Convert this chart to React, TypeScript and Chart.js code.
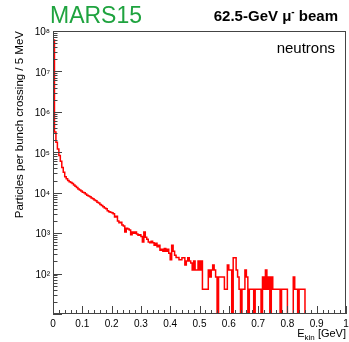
import React, { useEffect, useRef } from 'react';
import { Chart, registerables } from 'chart.js';

Chart.register(...registerables);

// ---- data ----
const BIN_WIDTH_GEV = 0.005;
const X_MIN = 0;
const X_MAX = 1;
const Y_MIN = 10;
const Y_MAX = 1e8;

// neutrons per bunch crossing, 5 MeV bins from 0 to 1 GeV
const neutronCounts: number[] = [
  60000000, 316000, 178000, 120000, 83000, 60000, 42000, 32000, 25000, 22000,
  20000, 18600, 17800, 17000, 15500, 14500, 13500, 12300, 11700, 11000,
  10200, 10000, 9300, 8700, 8300, 7900, 7400, 7100, 6600, 6300,
  5800, 5600, 5100, 4800, 4500, 4200, 4000, 3600, 3400, 3300,
  3200, 3000, 2500, 2600, 2000, 1800, 1860, 1580, 1510, 1070,
  1320, 1260, 1200, 910, 1070, 1000, 1070, 950, 890, 910,
  830, 600, 1070, 790, 710, 600, 575, 630, 575, 500,
  560, 460, 500, 380, 400, 355, 415, 355, 400, 316,
  219, 500, 355, 282, 251, 251, 219, 219, 246, 246,
  164, 205, 246, 205, 182, 123, 205, 123, 123, 205,
  123, 205, 41, 41, 41, 41, 123, 82, 123, 164,
  123, 82, 0, 82, 82, 82, 82, 41, 41, 164,
  123, 123, 0, 246, 246, 123, 82, 41, 0, 41,
  41, 123, 82, 0, 41, 41, 41, 0, 41, 41,
  41, 41, 0, 82, 41, 123, 41, 82, 0, 82,
  41, 41, 41, 41, 41, 0, 41, 41, 41, 41,
  0, 0, 0, 0, 82, 41, 41, 0, 41, 41,
  41, 41, 0, 0, 0, 0, 0, 0, 0, 0,
  0, 0, 0, 0, 0, 0, 0, 0, 0, 0,
  0, 0, 0, 0, 0, 0, 0, 0, 0, 0,
];

const xTickValues: number[] = [0, 0.1, 0.2, 0.3, 0.4, 0.5, 0.6, 0.7, 0.8, 0.9, 1];
const yTickValues: number[] = [1e2, 1e3, 1e4, 1e5, 1e6, 1e7, 1e8];

const TITLE_LEFT = 'MARS15';
const TITLE_RIGHT_MAIN = '62.5-GeV μ';
const TITLE_RIGHT_SUP = '-';
const TITLE_RIGHT_END = ' beam';
const PARTICLE_LABEL = 'neutrons';
const Y_TITLE = 'Particles per bunch crossing / 5 MeV';
const X_TITLE_MAIN = 'E';
const X_TITLE_SUB = 'kin';
const X_TITLE_END = ' [GeV]';

// ---- styles ----
const FONT = '"Liberation Sans", Arial, Helvetica, sans-serif';
const LINE_COLOR = '#ff0000';
const FRAME_COLOR = '#444444';
const GREEN = '#1fa33f';

const SUP: Record<string, string> = {
  '0': '⁰', '1': '¹', '2': '²', '3': '³', '4': '⁴',
  '5': '⁵', '6': '⁶', '7': '⁷', '8': '⁸', '9': '⁹',
};

const decorPlugin = {
  id: 'rootDecor',
  afterDatasetsDraw(chart: any) {
    const { ctx, chartArea: a, scales } = chart;
    const xs = scales.x;
    const ys = scales.y;
    ctx.save();
    ctx.strokeStyle = FRAME_COLOR;
    ctx.lineWidth = 1;
    // frame
    ctx.strokeRect(a.left + 0.5, a.top + 0.5, a.right - a.left - 1, a.bottom - a.top - 1);
    ctx.beginPath();
    // y ticks (inside)
    const yMinExp = Math.round(Math.log10(Y_MIN));
    const yMaxExp = Math.round(Math.log10(Y_MAX));
    for (let e = yMinExp; e <= yMaxExp; e++) {
      const p = Math.round(ys.getPixelForValue(Math.pow(10, e))) + 0.5;
      ctx.moveTo(a.left, p);
      ctx.lineTo(a.left + 9, p);
      if (e < yMaxExp) {
        for (let k = 2; k <= 9; k++) {
          const q = Math.round(ys.getPixelForValue(k * Math.pow(10, e))) + 0.5;
          ctx.moveTo(a.left, q);
          ctx.lineTo(a.left + 4.5, q);
        }
      }
    }
    // x ticks (inside)
    for (let i = 0; i <= 50; i++) {
      const v = X_MIN + (i * (X_MAX - X_MIN)) / 50;
      const p = Math.round(xs.getPixelForValue(v)) + 0.5;
      const len = i % 5 === 0 ? 8 : 4;
      ctx.moveTo(p, a.bottom);
      ctx.lineTo(p, a.bottom - len);
    }
    ctx.stroke();
    ctx.restore();
  },
  afterDraw(chart: any) {
    const { ctx, chartArea: a } = chart;
    ctx.save();
    ctx.fillStyle = '#000';
    ctx.textBaseline = 'alphabetic';

    // header left
    ctx.fillStyle = GREEN;
    ctx.font = `23px ${FONT}`;
    ctx.textAlign = 'left';
    ctx.fillText(TITLE_LEFT, 50, 23);

    // header right
    ctx.fillStyle = '#000';
    ctx.font = `bold 15px ${FONT}`;
    const wMain = ctx.measureText(TITLE_RIGHT_MAIN).width;
    const wEnd = ctx.measureText(TITLE_RIGHT_END).width;
    ctx.font = `bold 10px ${FONT}`;
    const wSup = ctx.measureText(TITLE_RIGHT_SUP).width;
    const right = 338;
    const x0 = right - wMain - wSup - wEnd;
    ctx.font = `bold 15px ${FONT}`;
    ctx.fillText(TITLE_RIGHT_MAIN, x0, 21);
    ctx.font = `bold 10px ${FONT}`;
    ctx.fillText(TITLE_RIGHT_SUP, x0 + wMain, 15);
    ctx.font = `bold 15px ${FONT}`;
    ctx.fillText(TITLE_RIGHT_END, x0 + wMain + wSup, 21);

    // particle label
    ctx.font = `15px ${FONT}`;
    ctx.textAlign = 'right';
    ctx.fillText(PARTICLE_LABEL, 335, 53);

    // y title
    ctx.save();
    ctx.translate(23, a.top);
    ctx.rotate(-Math.PI / 2);
    ctx.font = `11.5px ${FONT}`;
    ctx.textAlign = 'right';
    ctx.fillText(Y_TITLE, 0, 0);
    ctx.restore();

    // x title
    ctx.textAlign = 'left';
    ctx.font = `11px ${FONT}`;
    const wE = ctx.measureText(X_TITLE_MAIN).width;
    const wRest = ctx.measureText(X_TITLE_END).width;
    ctx.font = `8px ${FONT}`;
    const wSub = ctx.measureText(X_TITLE_SUB).width;
    const xr = a.right;
    const xs0 = xr - wE - wSub - wRest;
    ctx.font = `11px ${FONT}`;
    ctx.fillText(X_TITLE_MAIN, xs0, 337);
    ctx.font = `8px ${FONT}`;
    ctx.fillText(X_TITLE_SUB, xs0 + wE, 340);
    ctx.font = `11px ${FONT}`;
    ctx.fillText(X_TITLE_END, xs0 + wE + wSub, 337);
    ctx.restore();
  },
};

export default function App() {
  const canvasRef = useRef<HTMLCanvasElement | null>(null);

  useEffect(() => {
    const canvas = canvasRef.current;
    if (!canvas) return;

    // step outline: each bin value holds from its left edge to its right edge
    const points = [{ x: X_MIN, y: Y_MIN }];
    neutronCounts.forEach((v, i) => {
      points.push({ x: X_MIN + (i + 1) * BIN_WIDTH_GEV, y: Math.max(v, Y_MIN) });
    });

    const chart = new Chart(canvas, {
      type: 'line',
      data: {
        datasets: [
          {
            label: 'neutrons',
            data: points,
            borderColor: LINE_COLOR,
            borderWidth: 1.5,
            pointRadius: 0,
            fill: false,
            stepped: 'after',
            tension: 0,
          },
        ],
      },
      options: {
        responsive: false,
        animation: false,
        devicePixelRatio: 1,
        layout: { padding: { top: 31, right: 3, left: 0, bottom: 0 } },
        plugins: { legend: { display: false }, tooltip: { enabled: false } },
        scales: {
          x: {
            type: 'linear',
            min: X_MIN,
            max: X_MAX,
            grid: { display: false, drawTicks: false },
            border: { display: false },
            afterBuildTicks: (scale: any) => {
              scale.ticks = xTickValues.map((value) => ({ value }));
            },
            afterFit: (scale: any) => {
              scale.height = 28;
              scale.paddingLeft = 0;
              scale.paddingRight = 0;
            },
            ticks: {
              autoSkip: false,
              maxRotation: 0,
              minRotation: 0,
              padding: 4,
              color: '#000',
              font: { family: FONT, size: 10 },
              callback: (v: any) => String(Number(Number(v).toFixed(1))),
            },
          },
          y: {
            type: 'logarithmic',
            min: Y_MIN,
            max: Y_MAX,
            grid: { display: false, drawTicks: false },
            border: { display: false },
            afterBuildTicks: (scale: any) => {
              scale.ticks = yTickValues.map((value) => ({ value }));
            },
            afterFit: (scale: any) => {
              scale.width = 53;
              scale.paddingTop = 0;
              scale.paddingBottom = 0;
            },
            ticks: {
              autoSkip: false,
              padding: 3,
              labelOffset: 1.5,
              color: '#000',
              font: { family: FONT, size: 10 },
              callback: (v: any) => {
                const e = String(Math.round(Math.log10(Number(v))));
                return '10' + e.split('').map((c) => SUP[c] || c).join('');
              },
            },
          },
        },
      },
      plugins: [decorPlugin],
    });

    return () => chart.destroy();
  }, []);

  return (
    <div style={{ position: 'fixed', left: 0, top: 0, width: 349, height: 342, background: '#fff' }}>
      <canvas ref={canvasRef} width={349} height={342} style={{ width: 349, height: 342, display: 'block' }} />
    </div>
  );
}
